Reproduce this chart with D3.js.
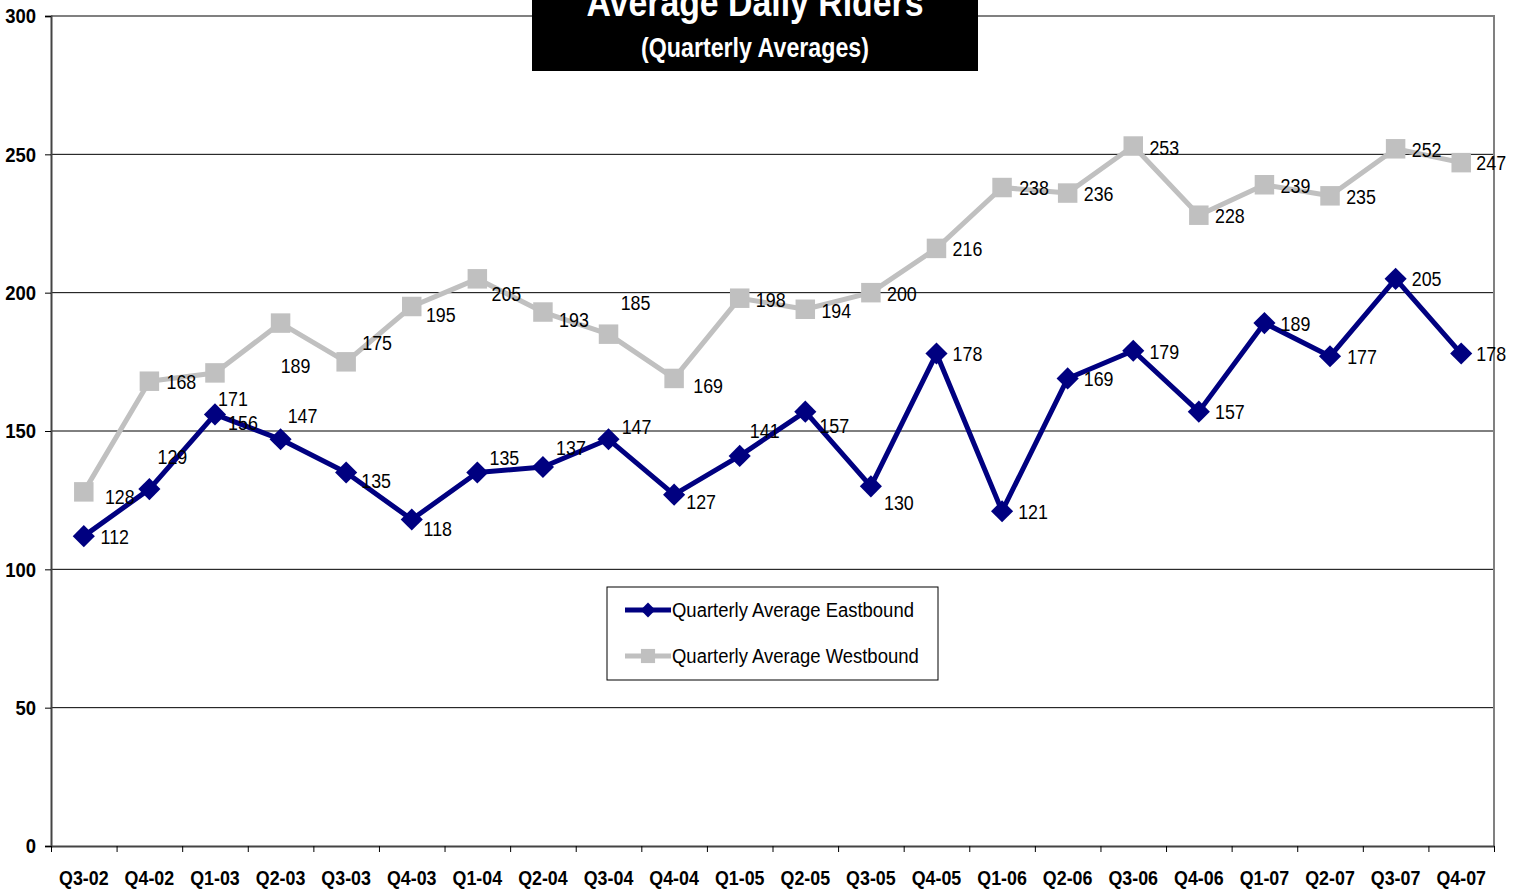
<!DOCTYPE html>
<html>
<head>
<meta charset="utf-8">
<script src="https://cdn.jsdelivr.net/npm/d3@7"></script>
<style>
  body { margin: 0; background: #fff; }
  svg { display: block; font-family: "Liberation Sans Narrow", "Arial Narrow", "Liberation Sans", Arial, sans-serif; }
  .yAxis text, .xAxis text { font-weight: bold; fill: #000; }
</style>
</head>
<body>
<svg width="1520" height="892"></svg>
<script>
// 분기 라벨
const quarters = ["Q3-02", "Q4-02", "Q1-03", "Q2-03", "Q3-03", "Q4-03", "Q1-04", "Q2-04", "Q3-04", "Q4-04", "Q1-05",
  "Q2-05", "Q3-05", "Q4-05", "Q1-06", "Q2-06", "Q3-06", "Q4-06", "Q1-07", "Q2-07", "Q3-07", "Q4-07"];

const eastbound = [112, 129, 156, 147, 135, 118, 135, 137, 147, 127, 141, 157, 130, 178, 121, 169, 179, 157, 189, 177, 205, 178];
const westbound = [128, 168, 171, 189, 175, 195, 205, 193, 185, 169, 198, 194, 200, 216, 238, 236, 253, 228, 239, 235, 252, 247];

const yTicks = [0, 50, 100, 150, 200, 250, 300];

// 라벨 겹침 피하기 위한 위치 보정 (px)
const eastNudge = [[31, 0], [23, -33], [28, 8], [22, -24], [30, 8], [26, 9], [27, -15], [28, -20], [28, -13], [27, 7], [25, -25],
  [29, 14], [28, 16], [31, 0], [31, 0], [31, 0], [31, 1], [31, 0], [31, 0], [32, 0], [31, 0], [30, 0]];
const westNudge = [[36, 5], [32, 0], [18, 26], [15, 42], [31, -19], [29, 8], [29, 15], [31, 7], [27, -32], [34, 7], [31, 1],
  [31, 1], [31, 1], [31, 0], [32, 0], [31, 0], [31, 1], [31, 0], [31, 1], [31, 1], [31, 1], [30, 0]];

const plotLeft = 51, plotRight = 1494, plotTop = 16, plotBottom = 846;

const svg = d3.select("svg");

// 좁은 글꼴이 없으므로 가로로 눌러서 흉내냄
function narrow(sel, k) {
  sel.each(function () {
    const t = d3.select(this);
    const x = +t.attr("x") || 0, y = +t.attr("y") || 0;
    t.attr("x", 0).attr("y", 0).attr("transform", `translate(${x},${y}) scale(${k},1)`);
  });
}

const xScale = d3.scaleBand().domain(quarters).range([plotLeft, plotRight]);
const xEdge = d3.scaleLinear().domain([0, quarters.length]).range([plotLeft, plotRight]);
const yScale = d3.scaleLinear().domain([0, 300]).range([plotBottom, plotTop]);

// 그리드
svg.append("g").selectAll("line")
  .data(yTicks.filter(d => d > 0 && d < 300))
  .enter().append("line")
  .attr("x1", plotLeft).attr("x2", plotRight)
  .attr("y1", d => yScale(d)).attr("y2", d => yScale(d))
  .attr("stroke", "#000").attr("stroke-width", 1);

// 테두리 (위, 오른쪽)
svg.append("path")
  .attr("d", `M${plotLeft},${plotTop}H${plotRight}V${plotBottom}`)
  .attr("fill", "none").attr("stroke", "#808080").attr("stroke-width", 2);

// y축
const yAxisSVG = svg.append("g").attr("class", "yAxis").attr("transform", `translate(${plotLeft},0)`);
yAxisSVG.call(d3.axisLeft(yScale).tickValues(yTicks).tickSize(6).tickPadding(9));
yAxisSVG.selectAll("text").attr("font-size", "21px");
narrow(yAxisSVG.selectAll("text"), 0.88);
yAxisSVG.select(".domain").attr("stroke", "#444").attr("stroke-width", 2);

// x축 눈금 (경계)
const xTickSVG = svg.append("g").attr("transform", `translate(0,${plotBottom})`);
xTickSVG.call(d3.axisBottom(xEdge).tickValues(d3.range(quarters.length + 1)).tickFormat("").tickSize(6).tickSizeOuter(0));
xTickSVG.select(".domain").attr("stroke", "#444").attr("stroke-width", 2);

const xAxisSVG = svg.append("g").attr("class", "xAxis").attr("transform", `translate(0,${plotBottom})`);
xAxisSVG.call(d3.axisBottom(xScale).tickSize(0).tickPadding(24));
xAxisSVG.select(".domain").remove();
xAxisSVG.selectAll("text").attr("font-size", "21px");
narrow(xAxisSVG.selectAll("text"), 0.85);

const cx = d => xScale(d) + xScale.bandwidth() / 2;

// 다이아몬드는 정사각형을 45도 돌려서 사용
const seriesConfig = [
  { data: westbound, name: "Quarterly Average Westbound", color: "#C0C0C0", size: 380, rotate: 0, nudge: westNudge },
  { data: eastbound, name: "Quarterly Average Eastbound", color: "#000080", size: 245, rotate: 45, nudge: eastNudge }
];

const lineGen = d3.line().x((d, i) => cx(quarters[i])).y(d => yScale(d));

seriesConfig.forEach(s => {
  svg.append("path")
    .attr("d", lineGen(s.data))
    .attr("fill", "none")
    .attr("stroke", s.color)
    .attr("stroke-width", 5)
    .attr("stroke-linejoin", "round");

  svg.append("g").selectAll("path")
    .data(s.data)
    .enter().append("path")
    .attr("d", d3.symbol().type(d3.symbolSquare).size(s.size))
    .attr("transform", (d, i) => `translate(${cx(quarters[i])},${yScale(d)}) rotate(${s.rotate})`)
    .attr("fill", s.color);
});

seriesConfig.forEach(s => {
  const labels = svg.append("g").selectAll("text")
    .data(s.data)
    .enter().append("text")
    .attr("x", (d, i) => cx(quarters[i]) + s.nudge[i][0])
    .attr("y", (d, i) => yScale(d) + s.nudge[i][1])
    .attr("text-anchor", "middle")
    .attr("dominant-baseline", "central")
    .attr("font-size", "21px")
    .attr("fill", "#000")
    .text(d => d);
  narrow(labels, 0.85);
});

// 제목
svg.append("rect").attr("x", 532).attr("y", 0).attr("width", 446).attr("height", 71).attr("fill", "#000");
const t1 = svg.append("text").attr("x", 755).attr("y", 16).attr("text-anchor", "middle")
  .attr("font-size", "38px").attr("font-weight", "bold").attr("fill", "#fff").text("Average Daily Riders");
const t2 = svg.append("text").attr("x", 755).attr("y", 57).attr("text-anchor", "middle")
  .attr("font-size", "27px").attr("font-weight", "bold").attr("fill", "#fff").text("(Quarterly Averages)");
narrow(t1, 0.89);
narrow(t2, 0.86);

// 범례
const legend = svg.append("g").attr("transform", "translate(607,587)");
legend.append("rect").attr("width", 331).attr("height", 93).attr("fill", "#fff").attr("stroke", "#000").attr("stroke-width", 1);
[seriesConfig[1], seriesConfig[0]].forEach((s, i) => {
  const y = 23 + i * 46;
  legend.append("line").attr("x1", 18).attr("x2", 64).attr("y1", y).attr("y2", y)
    .attr("stroke", s.color).attr("stroke-width", 5);
  legend.append("path").attr("d", d3.symbol().type(d3.symbolSquare).size(s.rotate ? 110 : 200))
    .attr("transform", `translate(41,${y}) rotate(${s.rotate})`).attr("fill", s.color);
  const lt = legend.append("text").attr("x", 65).attr("y", y).attr("dominant-baseline", "central")
    .attr("font-size", "21px").text(s.name);
  narrow(lt, 0.88);
});
</script>
</body>
</html>
